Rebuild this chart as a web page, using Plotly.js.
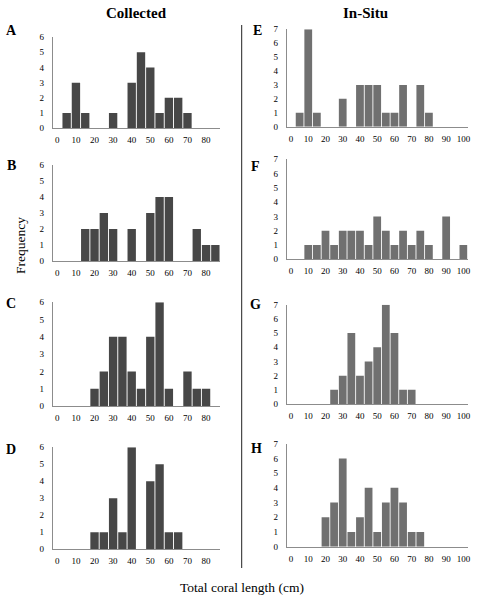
<!DOCTYPE html>
<html>
<head>
<meta charset="utf-8">
<script src="https://cdn.plot.ly/plotly-3.0.1.min.js"></script>
<style>html,body{margin:0;padding:0;background:#fff}#chart{width:479px;height:600px}</style>
</head>
<body>
<div id="chart"></div>
<script>
// ---- data ----
const binsCollected = [0,5,10,15,20,25,30,35,40,45,50,55,60,65,70,75,80,85];
const binsInSitu = [0,5,10,15,20,25,30,35,40,45,50,55,60,65,70,75,80,85,90,95,100];

const countsA = [0,1,3,1,0,0,1,0,3,5,4,1,2,2,1,0,0,0];
const countsB = [0,0,0,2,2,3,2,0,2,0,3,4,4,0,0,2,1,1];
const countsC = [0,0,0,0,1,2,4,4,2,1,4,6,1,0,2,1,1,0];
const countsD = [0,0,0,0,1,1,3,1,6,0,4,5,1,1,0,0,0,0];

const countsE = [0,1,7,1,0,0,2,0,3,3,3,1,1,3,0,3,1,0,0,0,0];
const countsF = [0,0,1,1,2,1,2,2,2,1,3,2,1,2,1,2,1,0,3,0,1];
const countsG = [0,0,0,0,0,1,2,5,2,3,4,7,5,1,1,0,0,0,0,0,0];
const countsH = [0,0,0,0,2,3,6,1,2,4,1,3,4,3,1,1,0,0,0,0,0];

const xTicksCollected = [0,10,20,30,40,50,60,70,80];
const xTicksInSitu = [0,10,20,30,40,50,60,70,80,90,100];
const yTicksCollected = [0,1,2,3,4,5,6];
const yTicksInSitu = [0,1,2,3,4,5,6,7];

const panelLetters = ["A","B","C","D","E","F","G","H"];
const columnTitles = ["Collected","In-Situ"];
const xTitle = "Total coral length (cm)";
const yTitle = "Frequency";

// ---- layout helpers ----
const W = 479, H = 600;
const px = v => v / W;
const py = v => 1 - v / H;

const colL = {x0: 52.7, x1: 220, color: "#474747", bins: binsCollected, xt: xTicksCollected, yt: yTicksCollected, ymax: 6, xmax: 87.5};
const colR = {x0: 286.7, x1: 467.7, color: "#707070", bins: binsInSitu, xt: xTicksInSitu, yt: yTicksInSitu, ymax: 7, xmax: 102.5};

const panels = [
  {col: colL, counts: countsA, top: 37, bot: 128.3, lx: 11, ly: 30},
  {col: colL, counts: countsB, top: 165, bot: 261, lx: 11, ly: 166},
  {col: colL, counts: countsC, top: 302.3, bot: 406, lx: 11, ly: 303},
  {col: colL, counts: countsD, top: 447.3, bot: 549.3, lx: 11, ly: 449},
  {col: colR, counts: countsE, top: 29.3, bot: 126.7, lx: 257, ly: 30},
  {col: colR, counts: countsF, top: 159.3, bot: 259.3, lx: 256, ly: 166.5},
  {col: colR, counts: countsG, top: 304.7, bot: 404, lx: 256, ly: 304.7},
  {col: colR, counts: countsH, top: 443.7, bot: 546.7, lx: 256.5, ly: 448.5}
];

const tickFont = {family: "Liberation Serif, Times New Roman, serif", size: 9, color: "#000"};
const data = [];
const layout = {
  width: W, height: H,
  margin: {l: 0, r: 0, t: 0, b: 0},
  paper_bgcolor: "#fff", plot_bgcolor: "rgba(0,0,0,0)",
  showlegend: false,
  bargap: 0.1,
  annotations: [],
  shapes: []
};

panels.forEach((p, i) => {
  const n = i + 1;
  const xa = n === 1 ? "x" : "x" + n;
  const ya = n === 1 ? "y" : "y" + n;
  data.push({
    type: "bar", x: p.col.bins, y: p.counts,
    xaxis: xa, yaxis: ya,
    marker: {color: p.col.color},
    hoverinfo: "x+y"
  });
  layout[n === 1 ? "xaxis" : "xaxis" + n] = {
    domain: [px(p.col.x0), px(p.col.x1)],
    anchor: ya,
    range: [-2.5, p.col.xmax],
    tickmode: "array", tickvals: p.col.xt, ticktext: p.col.xt.map(String),
    showgrid: false, zeroline: false,
    showline: true, linecolor: "#8c8c8c", linewidth: 1,
    ticks: "", ticklabelstandoff: 3,
    tickfont: tickFont, fixedrange: true
  };
  layout[n === 1 ? "yaxis" : "yaxis" + n] = {
    domain: [py(p.bot), py(p.top)],
    anchor: xa,
    range: [0, p.col.ymax],
    tickmode: "array", tickvals: p.col.yt, ticktext: p.col.yt.map(String),
    showgrid: false, zeroline: false,
    showline: true, linecolor: "#8c8c8c", linewidth: 1,
    ticks: "", ticklabelstandoff: 6,
    tickfont: tickFont, fixedrange: true
  };
  layout.annotations.push({
    xref: "paper", yref: "paper", x: px(p.lx), y: py(p.ly),
    text: "<b>" + panelLetters[i] + "</b>", showarrow: false,
    xanchor: "center", yanchor: "middle",
    font: {family: "Liberation Serif, Times New Roman, serif", size: 14, color: "#000"}
  });
});

// column titles
layout.annotations.push({
  xref: "paper", yref: "paper", x: px(136.7), y: py(12.7),
  text: "<b>" + columnTitles[0] + "</b>", showarrow: false, xanchor: "center", yanchor: "middle",
  font: {family: "Liberation Serif, Times New Roman, serif", size: 15, color: "#000"}
});
layout.annotations.push({
  xref: "paper", yref: "paper", x: px(365.8), y: py(12.7),
  text: "<b>" + columnTitles[1] + "</b>", showarrow: false, xanchor: "center", yanchor: "middle",
  font: {family: "Liberation Serif, Times New Roman, serif", size: 15, color: "#000"}
});
// shared axis titles
layout.annotations.push({
  xref: "paper", yref: "paper", x: px(242), y: py(587.7),
  text: xTitle, showarrow: false, xanchor: "center", yanchor: "middle",
  font: {family: "Liberation Serif, Times New Roman, serif", size: 13.5, color: "#000"}
});
layout.annotations.push({
  xref: "paper", yref: "paper", x: px(21), y: py(246),
  text: yTitle, showarrow: false, xanchor: "center", yanchor: "middle", textangle: -90,
  font: {family: "Liberation Serif, Times New Roman, serif", size: 13.5, color: "#000"}
});
// divider line between columns
layout.shapes.push({
  type: "line", xref: "paper", yref: "paper",
  x0: px(241.7), x1: px(241.7), y0: py(25), y1: py(568),
  line: {color: "#222", width: 1}
});

Plotly.newPlot("chart", data, layout, {displayModeBar: false, staticPlot: true});
</script>
</body>
</html>
